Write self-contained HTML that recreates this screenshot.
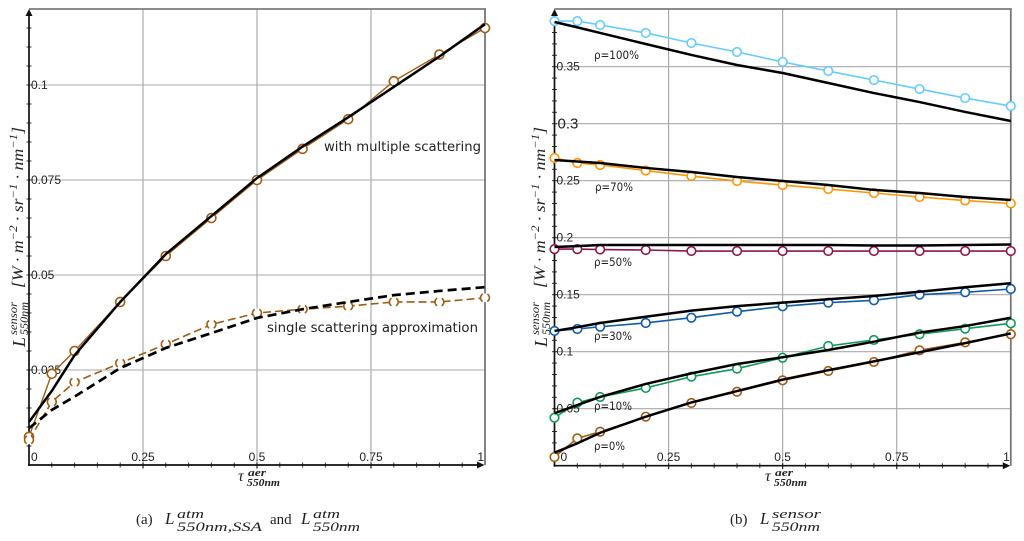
<!DOCTYPE html>
<html lang="en">
<head>
<meta charset="utf-8">
<title>Sensor radiance charts</title>
<style>
html,body{margin:0;padding:0;background:#fff;}
#figure{display:block;width:1024px;height:541px;filter:blur(0.3px);}
.m{font-family:"Liberation Serif",serif;font-style:italic;fill:#222;}
.c{font-family:"Liberation Serif",serif;fill:#222;}
</style>
</head>
<body>
<svg id="figure" xmlns="http://www.w3.org/2000/svg" width="1024" height="541" viewBox="0 0 1024 541">
  <g id="panel-a"></g>
  <g id="panel-b"></g>

  <g transform="translate(25,347) rotate(-90)">
    <text class="m" x="0" y="0" font-size="18">L</text>
    <text class="m" x="12" y="-8" font-size="12" textLength="33" lengthAdjust="spacingAndGlyphs">sensor</text>
    <text class="m" x="12" y="3" font-size="12" textLength="33" lengthAdjust="spacingAndGlyphs">550nm</text>
    <text class="m" x="59" y="-2" font-size="16" textLength="161" lengthAdjust="spacingAndGlyphs">[W · m<tspan font-size="11.5" dy="-6">−2</tspan><tspan dy="6"> · sr</tspan><tspan font-size="11.5" dy="-6">−1</tspan><tspan dy="6"> · nm</tspan><tspan font-size="11.5" dy="-6">−1</tspan><tspan dy="6">]</tspan></text>
  </g>
  <g transform="translate(547,347) rotate(-90)">
    <text class="m" x="0" y="0" font-size="18">L</text>
    <text class="m" x="12" y="-8" font-size="12" textLength="33" lengthAdjust="spacingAndGlyphs">sensor</text>
    <text class="m" x="12" y="3" font-size="12" textLength="33" lengthAdjust="spacingAndGlyphs">550nm</text>
    <text class="m" x="59" y="-2" font-size="16" textLength="161" lengthAdjust="spacingAndGlyphs">[W · m<tspan font-size="11.5" dy="-6">−2</tspan><tspan dy="6"> · sr</tspan><tspan font-size="11.5" dy="-6">−1</tspan><tspan dy="6"> · nm</tspan><tspan font-size="11.5" dy="-6">−1</tspan><tspan dy="6">]</tspan></text>
  </g>

  <g>
    <text class="m" x="238" y="481" font-size="16">τ</text>
    <text class="m" x="248" y="476" font-size="11" font-weight="bold" textLength="18" lengthAdjust="spacingAndGlyphs">aer</text>
    <text class="m" x="247" y="486" font-size="11" font-weight="bold" textLength="33" lengthAdjust="spacingAndGlyphs">550nm</text>
  </g>
  <g>
    <text class="m" x="765" y="481" font-size="16">τ</text>
    <text class="m" x="775" y="476" font-size="11" font-weight="bold" textLength="18" lengthAdjust="spacingAndGlyphs">aer</text>
    <text class="m" x="774" y="486" font-size="11" font-weight="bold" textLength="33" lengthAdjust="spacingAndGlyphs">550nm</text>
  </g>

  <g>
    <text class="c" x="136" y="524" font-size="15">(a)</text>
    <text class="m" x="165" y="524" font-size="17">L</text>
    <text class="m" x="177" y="518" font-size="12.5" textLength="27" lengthAdjust="spacingAndGlyphs">atm</text>
    <text class="m" x="177" y="531" font-size="12.5" textLength="85" lengthAdjust="spacingAndGlyphs">550nm,SSA</text>
    <text class="c" x="270" y="524" font-size="15">and</text>
    <text class="m" x="301" y="524" font-size="17">L</text>
    <text class="m" x="313" y="518" font-size="12.5" textLength="27" lengthAdjust="spacingAndGlyphs">atm</text>
    <text class="m" x="313" y="531" font-size="12.5" textLength="47" lengthAdjust="spacingAndGlyphs">550nm</text>
  </g>
  <g>
    <text class="c" x="730" y="524" font-size="15">(b)</text>
    <text class="m" x="760" y="524" font-size="17">L</text>
    <text class="m" x="772" y="518" font-size="12.5" textLength="49" lengthAdjust="spacingAndGlyphs">sensor</text>
    <text class="m" x="772" y="531" font-size="12.5" textLength="48" lengthAdjust="spacingAndGlyphs">550nm</text>
  </g>
</svg>
<script>
const NS = 'http://www.w3.org/2000/svg';

const tauValues = [0, 0.05, 0.1, 0.2, 0.3, 0.4, 0.5, 0.6, 0.7, 0.8, 0.9, 1];

const xTickValues = [0, 0.25, 0.5, 0.75, 1];
const xTickLabels = ['0', '0.25', '0.5', '0.75', '1'];

const panelAYTickValues = [0.025, 0.05, 0.075, 0.1];
const panelAYTickLabels = ['0.025', '0.05', '0.075', '0.1'];
const panelBYTickValues = [0.05, 0.1, 0.15, 0.2, 0.25, 0.3, 0.35];
const panelBYTickLabels = ['0.05', '0.1', '0.15', '0.2', '0.25', '0.3', '0.35'];

const multipleScatterMeasured = [0.0074, 0.024, 0.030, 0.0429, 0.055, 0.065, 0.075, 0.0832, 0.091, 0.101, 0.108, 0.115];
const multipleScatterModel = [0.0113, 0.0195, 0.0289, 0.0429, 0.0555, 0.0655, 0.0755, 0.0838, 0.0915, 0.0995, 0.1075, 0.116];
const singleScatterMeasured = [0.0066, 0.0166, 0.0218, 0.0268, 0.0318, 0.037, 0.040, 0.041, 0.0418, 0.0429, 0.0429, 0.044];
const singleScatterModel = [0.0097, 0.0145, 0.018, 0.0255, 0.0308, 0.0347, 0.0387, 0.041, 0.0429, 0.0447, 0.0458, 0.0468];

const rho100Measured = [0.390, 0.390, 0.3866, 0.3796, 0.3708, 0.3629, 0.3542, 0.3462, 0.3383, 0.3304, 0.3225, 0.3155];
const rho100Model = [0.3892, 0.3845, 0.3796, 0.3699, 0.3603, 0.3515, 0.3445, 0.3357, 0.3269, 0.319, 0.3103, 0.3024];
const rho70Measured = [0.2699, 0.2655, 0.2638, 0.2589, 0.2541, 0.2497, 0.2462, 0.2427, 0.2392, 0.2357, 0.2326, 0.230];
const rho70Model = [0.2682, 0.2668, 0.2655, 0.2612, 0.2576, 0.2532, 0.2497, 0.2462, 0.2419, 0.2392, 0.2357, 0.2331];
const rho50Measured = [0.190, 0.190, 0.1896, 0.1892, 0.1883, 0.1883, 0.1883, 0.1883, 0.1883, 0.1883, 0.1883, 0.1883];
const rho50Model = [0.1918, 0.1926, 0.1936, 0.1936, 0.1936, 0.1936, 0.1936, 0.1936, 0.1932, 0.1932, 0.1936, 0.194];
const rho30Measured = [0.1182, 0.1199, 0.1219, 0.1252, 0.1298, 0.1351, 0.1398, 0.143, 0.1451, 0.150, 0.1521, 0.155];
const rho30Model = [0.1182, 0.1215, 0.1252, 0.1307, 0.136, 0.140, 0.143, 0.146, 0.1489, 0.1526, 0.1565, 0.160];
const rho10Measured = [0.0421, 0.0553, 0.0603, 0.0682, 0.0781, 0.0851, 0.0947, 0.105, 0.1103, 0.1153, 0.1202, 0.1249];
const rho10Model = [0.046, 0.0532, 0.0603, 0.0717, 0.081, 0.0892, 0.0951, 0.1015, 0.1088, 0.1167, 0.1225, 0.1298];
const rho0Measured = [0.0076, 0.024, 0.0298, 0.043, 0.055, 0.0649, 0.0749, 0.0831, 0.091, 0.1012, 0.1082, 0.1153];
const rho0Model = [0.0114, 0.0196, 0.0289, 0.043, 0.0555, 0.0655, 0.0755, 0.0838, 0.0915, 0.0995, 0.1075, 0.116];

function panelAX(v) { return 29 + v * 456; }
function panelAY(v) { return 465 - v * 3800; }
function panelBX(v) { return 554.5 + v * 456.3; }
function panelBY(v) { return 465.7 - v * 1140; }

function svgEl(parent, tag, attrs) {
  const el = document.createElementNS(NS, tag);
  for (const k in attrs) el.setAttribute(k, attrs[k]);
  parent.appendChild(el);
  return el;
}

function drawAxes(root, px, py, yTop, xTicks, xLabels, yTicks, yLabels, yMinorCount, yMinorStep, prefix) {
  const left = px(0), right = px(1), bottom = py(0);

  xTicks.slice(1).forEach(function (v) {
    const g = svgEl(root, 'line', { x1: px(v), x2: px(v), y1: yTop, y2: bottom, stroke: '#a4a4a4', 'stroke-width': 1.1 });
    
    
  });
  yTicks.forEach(function (v) {
    const g = svgEl(root, 'line', { x1: left, x2: right, y1: py(v), y2: py(v), stroke: '#aaaaaa', 'stroke-width': 1.1 });
    
    
  });

  const top = svgEl(root, 'line', { x1: left, x2: right + 1, y1: yTop, y2: yTop, stroke: '#666', 'stroke-width': 1.4 });
  
  
  const rightBorder = svgEl(root, 'line', { x1: right, x2: right, y1: yTop, y2: bottom, stroke: '#777', 'stroke-width': 1.8 });
  
  

  for (let i = 1; i <= yMinorCount; i++) {
    const v = i * yMinorStep;
    const t = svgEl(root, 'line', { x1: left - 2.5, x2: left + 2.5, y1: py(v), y2: py(v), stroke: '#333', 'stroke-width': 1 });
    
    
  }
  for (let i = 1; i < 20; i++) {
    const v = i * 0.05;
    const major = i % 5 === 0;
    const t = svgEl(root, 'line', { x1: px(v), x2: px(v), y1: bottom - 2.5, y2: bottom + (major ? 3.5 : 2.5), stroke: '#333', 'stroke-width': major ? 1.3 : 1 });
    
    
  }

  const yAxis = svgEl(root, 'line', { x1: left, x2: left, y1: yTop + 2, y2: bottom + 1, stroke: '#111', 'stroke-width': 1.7 });
  
  
  const xAxis = svgEl(root, 'line', { x1: left - 1, x2: right - 3, y1: bottom, y2: bottom, stroke: '#111', 'stroke-width': 1.7 });
  
  
  const upArrow = svgEl(root, 'polygon', { points: (left - 3.5) + ',' + (yTop + 7) + ' ' + left + ',' + (yTop - 0) + ' ' + (left + 3.5) + ',' + (yTop + 7), fill: '#111' });
  
  
  const rightArrow = svgEl(root, 'polygon', { points: (right - 8) + ',' + (bottom - 3.5) + ' ' + (right - 0.5) + ',' + bottom + ' ' + (right - 8) + ',' + (bottom + 3.5), fill: '#111' });
  
  

  yLabels.forEach(function (label, i) {
    const big = label === '0.3';
    const t = svgEl(root, 'text', { x: left + (big ? 3 : 2), y: py(yTicks[i]) + (big ? 5 : 4), 'font-family': '"Liberation Sans",sans-serif', 'font-size': big ? 15 : 12, fill: '#222' });
    t.textContent = label;
    
    
  });
  xLabels.forEach(function (label, i) {
    const v = xTicks[i];
    let anchor = 'middle', x = px(v);
    if (v === 0) { anchor = 'start'; x = px(0) + (prefix === 'panel-b' ? 6 : 2); }
    if (v === 1) { anchor = 'end'; x = px(1) - 1; }
    const t = svgEl(root, 'text', { x: x, y: 461, 'text-anchor': anchor, 'font-family': '"Liberation Sans",sans-serif', 'font-size': 12, fill: '#222' });
    t.textContent = label;
    
    
  });
}

function pointsFor(values, px, py) {
  return values.map(function (v, i) { return px(tauValues[i]) + ',' + py(v); }).join(' ');
}

function drawMeasured(root, values, px, py, color, width, radius, dashed, name) {
  const line = svgEl(root, 'polyline', { points: pointsFor(values, px, py), fill: 'none', stroke: color, 'stroke-width': width });
  if (dashed) line.setAttribute('stroke-dasharray', '8 4');
  
  
  values.forEach(function (v, i) {
    const c = svgEl(root, 'circle', { cx: px(tauValues[i]), cy: py(v), r: radius, fill: '#fff', stroke: color, 'stroke-width': 1.6 });
    if (dashed) {
      c.setAttribute('stroke', 'none');
      const arc = svgEl(root, 'circle', { cx: px(tauValues[i]), cy: py(v), r: radius, fill: 'none', stroke: color, 'stroke-width': 1.6, 'stroke-dasharray': '9 4.8', 'stroke-dashoffset': '4.5' });
      
      
    }
    
    
  });
}

function drawModel(root, values, px, py, dashed, name) {
  const line = svgEl(root, 'polyline', { points: pointsFor(values, px, py), fill: 'none', stroke: '#000', 'stroke-width': dashed ? 2.7 : 2.5, 'stroke-linejoin': 'round' });
  if (dashed) line.setAttribute('stroke-dasharray', '9 5');
  
  
}

function annotate(root, text, x, y, size, width, name) {
  const t = svgEl(root, 'text', { x: x, y: y, 'font-family': '"DejaVu Sans",sans-serif', 'font-size': size, fill: '#222', textLength: width, lengthAdjust: 'spacingAndGlyphs' });
  t.textContent = text;
  
  
}

const panelA = document.getElementById('panel-a');
const panelB = document.getElementById('panel-b');

drawAxes(panelA, panelAX, panelAY, 9, xTickValues, xTickLabels, panelAYTickValues, panelAYTickLabels, 23, 0.005, 'panel-a');
drawMeasured(panelA, multipleScatterMeasured, panelAX, panelAY, '#a05c12', 1.4, 4.5, false, 'multiple-scattering-measured');
drawModel(panelA, multipleScatterModel, panelAX, panelAY, false, 'multiple-scattering-model');
drawMeasured(panelA, singleScatterMeasured, panelAX, panelAY, '#a05c12', 1.6, 4.4, true, 'single-scattering-measured');
drawModel(panelA, singleScatterModel, panelAX, panelAY, true, 'single-scattering-model');
annotate(panelA, 'with multiple scattering', 324, 151, 13, 157, 'multiple-scattering-label');
annotate(panelA, 'single scattering approximation', 267, 332, 13, 211, 'single-scattering-label');

drawAxes(panelB, panelBX, panelBY, 9, xTickValues, xTickLabels, panelBYTickValues, panelBYTickLabels, 39, 0.01, 'panel-b');
drawMeasured(panelB, rho100Measured, panelBX, panelBY, '#66ccff', 1.6, 4.3, false, 'rho-100-measured');
drawModel(panelB, rho100Model, panelBX, panelBY, false, 'rho-100-model');
drawMeasured(panelB, rho70Measured, panelBX, panelBY, '#ff9500', 1.6, 4.3, false, 'rho-70-measured');
drawModel(panelB, rho70Model, panelBX, panelBY, false, 'rho-70-model');
drawMeasured(panelB, rho50Measured, panelBX, panelBY, '#8e1650', 1.6, 4.3, false, 'rho-50-measured');
drawModel(panelB, rho50Model, panelBX, panelBY, false, 'rho-50-model');
drawMeasured(panelB, rho30Measured, panelBX, panelBY, '#0f5ca8', 1.6, 4.3, false, 'rho-30-measured');
drawModel(panelB, rho30Model, panelBX, panelBY, false, 'rho-30-model');
drawMeasured(panelB, rho10Measured, panelBX, panelBY, '#109a58', 1.6, 4.3, false, 'rho-10-measured');
drawModel(panelB, rho10Model, panelBX, panelBY, false, 'rho-10-model');
drawMeasured(panelB, rho0Measured, panelBX, panelBY, '#a05c12', 1.6, 4.3, false, 'rho-0-measured');
drawModel(panelB, rho0Model, panelBX, panelBY, false, 'rho-0-model');
annotate(panelB, 'ρ=100%', 594, 59, 11.5, 45, 'rho-100-label');
annotate(panelB, 'ρ=70%', 595, 191, 11.5, 38, 'rho-70-label');
annotate(panelB, 'ρ=50%', 594, 266, 11.5, 38, 'rho-50-label');
annotate(panelB, 'ρ=30%', 594, 340, 11.5, 38, 'rho-30-label');
annotate(panelB, 'ρ=10%', 594, 410, 11.5, 38, 'rho-10-label');
annotate(panelB, 'ρ=0%', 594, 450, 11.5, 31, 'rho-0-label');
</script>
</body>
</html>
